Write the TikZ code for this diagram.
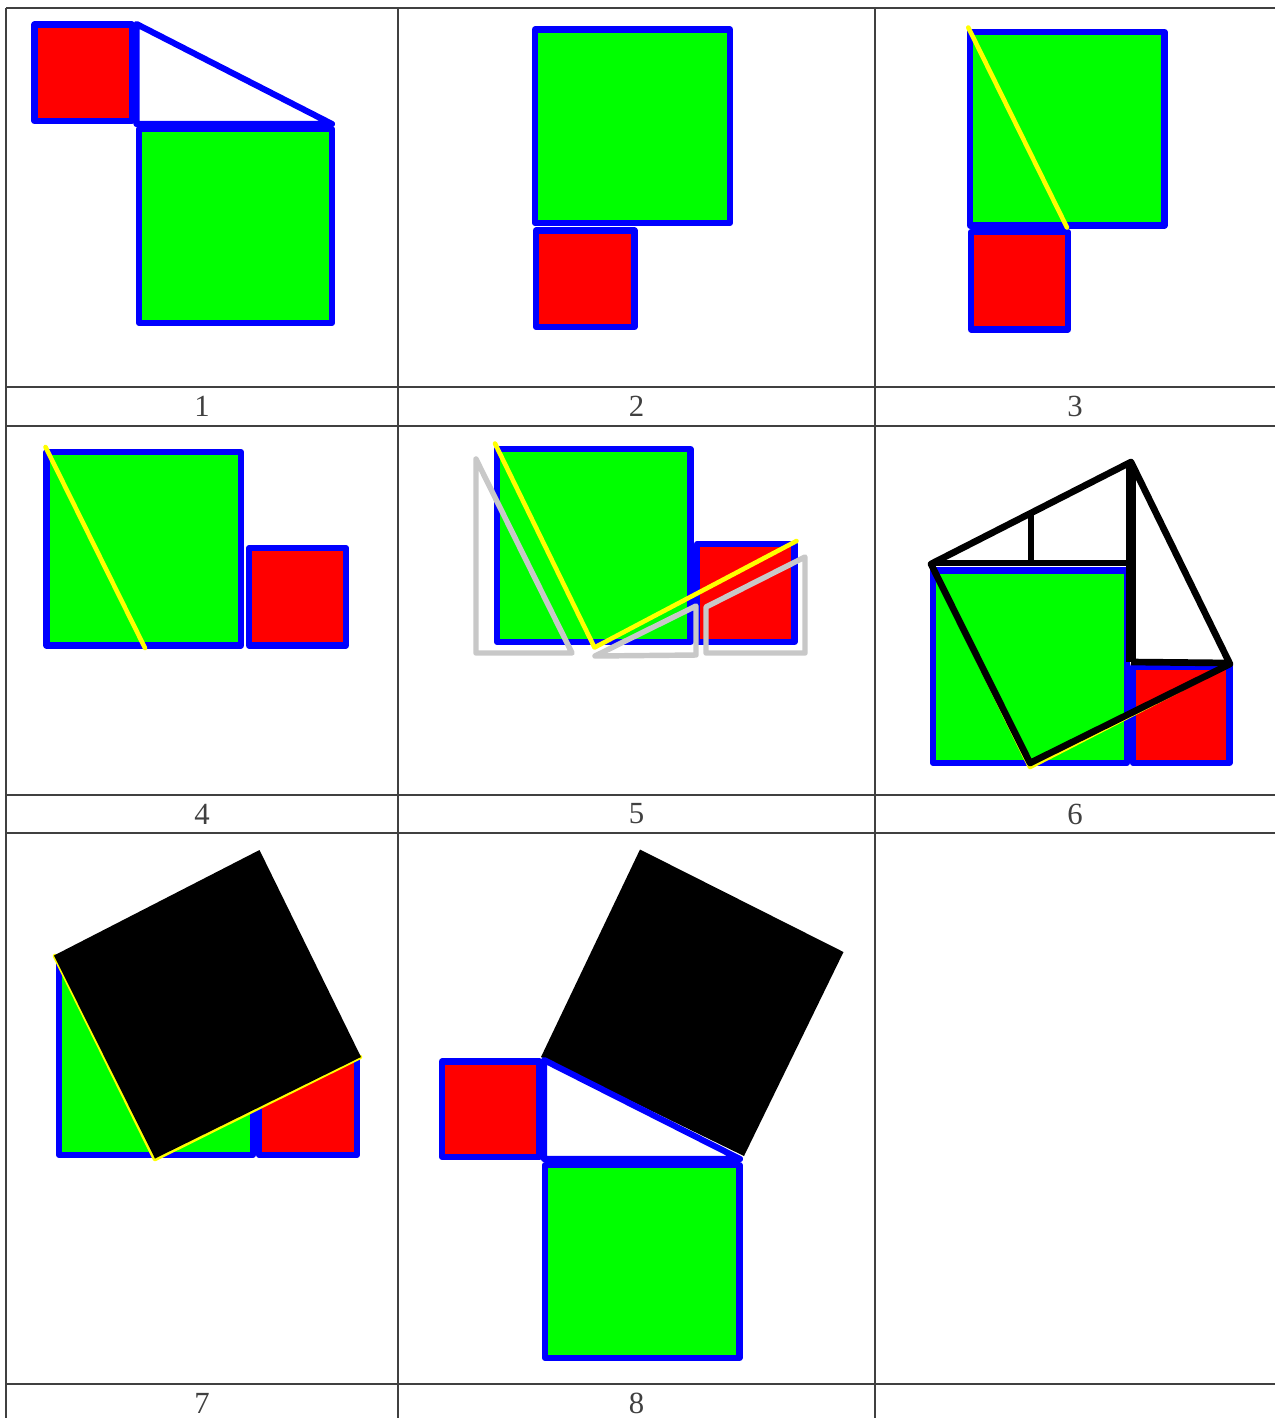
\documentclass[tikz,border=0pt]{standalone}
\usepackage{fontspec}
\setmainfont{Liberation Serif}

\definecolor{sqgreen}{RGB}{0,255,0}
\definecolor{sqred}{RGB}{255,0,0}
\definecolor{sqblue}{RGB}{0,0,255}
\definecolor{cutyellow}{RGB}{255,255,0}
\definecolor{ghostgray}{RGB}{200,200,200}
\definecolor{gridgray}{RGB}{64,64,64}

\tikzset{
  bigsq/.style={fill=sqgreen, draw=sqblue, line width=3.5pt, line join=round},
  smallsq/.style={fill=sqred, draw=sqblue, line width=3.5pt, line join=round},
  legs/.style={draw=sqblue, line width=3.5pt, line join=round},
  cutline/.style={draw=cutyellow, line width=2.6pt, line cap=round, line join=round},
  ghost/.style={draw=ghostgray, line width=3.1pt, line join=round},
  outline/.style={draw=black, line width=3.8pt, line join=round},
  hyposq/.style={fill=black},
  gridline/.style={draw=gridgray, line width=1.3pt},
  caption/.style={text=gridgray, font=\fontsize{17.5}{20}\selectfont, inner sep=0pt}
}

\begin{document}
\begin{tikzpicture}[x=0.02cm, y=-0.02cm]
  \useasboundingbox (0,0) rectangle (1275,1418);

  % Table grid
  \draw[gridline] (6,8) -- (6,1418);
  \draw[gridline] (398,8) -- (398,1418);
  \draw[gridline] (875,8) -- (875,1418);
  \draw[gridline] (6,8) -- (1275,8);
  \draw[gridline] (6,387) -- (1275,387);
  \draw[gridline] (6,426) -- (1275,426);
  \draw[gridline] (6,795) -- (1275,795);
  \draw[gridline] (6,833) -- (1275,833);
  \draw[gridline] (6,1384) -- (1275,1384);

  % Step 1: the right triangle with its two squares
  \draw[smallsq] (34.5,24.5) rectangle (132,121);
  \draw[bigsq] (139,129) rectangle (332,323);
  \draw[legs] (136.5,24) -- (136.5,124) -- (332,124) -- cycle;

  % Step 2: small square moved under the big one
  \draw[bigsq] (535,29.5) rectangle (730,223);
  \draw[smallsq] (536,230.5) rectangle (634.5,327);

  % Step 3: first cut
  \draw[bigsq] (970,32) rectangle (1164.5,225.5);
  \draw[smallsq] (971,232) rectangle (1068,329.5);
  \draw[cutline] (968.3,27.5) -- (1067,227.5);

  % Step 4: small square moved to the right
  \draw[bigsq] (46.5,452) rectangle (241,645.5);
  \draw[smallsq] (249,548) rectangle (346,645.5);
  \draw[cutline] (45.5,447) -- (145,648);

  % Step 5: second cut and the three pieces
  \draw[bigsq] (497,449) rectangle (690.5,642);
  \draw[smallsq] (697,544) rectangle (794.5,642);
  \draw[cutline] (495,443.5) -- (594.5,647.5) -- (796.5,541);
  \draw[ghost] (476,459) -- (476,653) -- (572,653) -- cycle;
  \draw[ghost] (595,656) -- (696,655) -- (696,606) -- cycle;
  \draw[ghost] (706,653) -- (706,607) -- (805,557) -- (805,653) -- cycle;

  % Step 6: pieces turned up into the square on the hypotenuse
  \draw[bigsq] (933,570.5) rectangle (1127,763);
  \draw[smallsq] (1133,666.5) rectangle (1229.5,763);
  \draw[cutline] (931,564) -- (1030,767) -- (1230,664);
  \draw[outline] (931,564) -- (1030,763) -- (1230,664) -- (1131,462) -- cycle;
  \draw[outline] (931,563) -- (1131,563);
  \draw[outline] (1031,513) -- (1031,563);
  \draw[outline, line width=5.6pt] (1131,464) -- (1131,662);
  \draw[outline] (1131,662) -- (1230,663);

  % Step 7: the square on the hypotenuse
  \draw[bigsq] (59,961) rectangle (253,1155);
  \draw[smallsq] (259,1059) rectangle (357,1155);
  \draw[cutline] (55,956) -- (155,1159) -- (360,1057);
  \fill[hyposq] (54,955.5) -- (155,1158.5) -- (361,1057) -- (259.5,850) -- cycle;

  % Step 8: all three squares on the triangle
  \draw[smallsq] (442,1061.5) rectangle (539.5,1157);
  \draw[bigsq] (545,1165) rectangle (739.5,1358);
  \fill[hyposq] (541,1057) -- (744,1156) -- (843.5,952) -- (640,849.5) -- cycle;
  \draw[legs] (544,1060) -- (544,1159) -- (740,1159) -- cycle;

  % Captions
  \node[caption] (cap1) at (202,406) {1};
  \node[caption] (cap2) at (636.5,406) {2};
  \node[caption] (cap3) at (1075,406) {3};
  \node[caption] (cap4) at (202,814) {4};
  \node[caption] (cap5) at (636.5,814) {5};
  \node[caption] (cap6) at (1075,814) {6};
  \node[caption] (cap7) at (202,1403) {7};
  \node[caption] (cap8) at (636.5,1403) {8};
\end{tikzpicture}
\end{document}
